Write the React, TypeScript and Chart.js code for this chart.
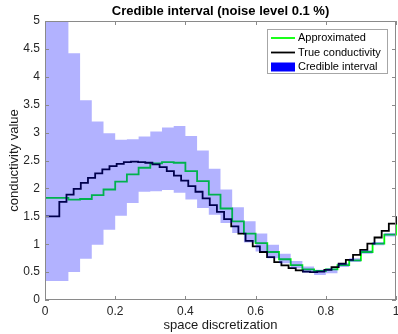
import React, { useEffect, useRef } from "react";
import { Chart, registerables } from "chart.js";

Chart.register(...registerables);

// x grid of the approximation / credible interval (30 cells, 31 edges)
const approxGrid = [0, 0.0333, 0.0667, 0.1, 0.1333, 0.1667, 0.2, 0.2333, 0.2667, 0.3, 0.3333, 0.3667, 0.4, 0.4333, 0.4667, 0.5, 0.5333, 0.5667, 0.6, 0.6333, 0.6667, 0.7, 0.7333, 0.7667, 0.8, 0.8333, 0.8667, 0.9, 0.9333, 0.9667, 1];
// x grid of the true conductivity (49 cells, 50 edges)
const trueGrid = [0, 0.0204, 0.0408, 0.0612, 0.0816, 0.102, 0.1224, 0.1429, 0.1633, 0.1837, 0.2041, 0.2245, 0.2449, 0.2653, 0.2857, 0.3061, 0.3265, 0.3469, 0.3673, 0.3878, 0.4082, 0.4286, 0.449, 0.4694, 0.4898, 0.5102, 0.5306, 0.551, 0.5714, 0.5918, 0.6122, 0.6327, 0.6531, 0.6735, 0.6939, 0.7143, 0.7347, 0.7551, 0.7755, 0.7959, 0.8163, 0.8367, 0.8571, 0.8776, 0.898, 0.9184, 0.9388, 0.9592, 0.9796, 1];

const approximated = [1.83, 1.83, 1.8, 1.81, 1.88, 1.98, 2.12, 2.25, 2.37, 2.45, 2.47, 2.46, 2.31, 2.13, 1.89, 1.64, 1.41, 1.19, 1.02, 0.86, 0.73, 0.625, 0.55, 0.52, 0.55, 0.625, 0.71, 0.86, 1.01, 1.17, 1.37];
const trueConductivity = [1.5, 1.5, 1.76, 1.89, 1.99, 2.1, 2.19, 2.27, 2.34, 2.4, 2.44, 2.47, 2.48, 2.47, 2.46, 2.43, 2.38, 2.31, 2.23, 2.14, 2.04, 1.94, 1.82, 1.7, 1.58, 1.45, 1.32, 1.19, 1.06, 0.96, 0.86, 0.77, 0.68, 0.62, 0.57, 0.53, 0.51, 0.5, 0.51, 0.54, 0.59, 0.65, 0.72, 0.81, 0.9, 1.01, 1.12, 1.24, 1.37, 1.5];
const credibleUpper = [5.6, 5.3, 4.42, 3.58, 3.2, 2.99, 2.87, 2.88, 2.93, 3.02, 3.09, 3.12, 2.94, 2.68, 2.35, 1.98, 1.66, 1.41, 1.19, 0.99, 0.83, 0.7, 0.6, 0.54, 0.57, 0.66, 0.75, 0.89, 1.04, 1.2, 1.2];
const credibleLower = [0.34, 0.34, 0.5, 0.74, 0.99, 1.26, 1.51, 1.74, 1.94, 1.95, 1.97, 1.92, 1.8, 1.65, 1.53, 1.38, 1.2, 1.03, 0.87, 0.75, 0.66, 0.57, 0.49, 0.45, 0.48, 0.59, 0.68, 0.83, 0.98, 1.14, 1.14];

const xTicks = [0, 0.2, 0.4, 0.6, 0.8, 1];
const xTickLabels = ["0", "0.2", "0.4", "0.6", "0.8", "1"];
const yTicks = [0, 0.5, 1, 1.5, 2, 2.5, 3, 3.5, 4, 4.5, 5];
const yTickLabels = ["0", "0.5", "1", "1.5", "2", "2.5", "3", "3.5", "4", "4.5", "5"];

const titleText = "Credible interval (noise level 0.1 %)";
const xTitle = "space discretization";
const yTitle = "conductivity value";
const legendLabels = ["Approximated", "True conductivity", "Credible interval"];

const FONT = "'Liberation Sans', Arial, Helvetica, sans-serif";
const GREEN = "#00ff00";
const BLACK = "#000000";
const BAND = "rgba(0,0,255,0.3)";
const AXIS = "#8a8a8a";

const toPts = (xs: number[], ys: number[]) => xs.map((x, i) => ({ x, y: ys[i] }));

const decorPlugin = {
  id: "decor",
  afterDraw(chart: any) {
    const { ctx, chartArea: a, scales } = chart;
    const sx = scales.x;
    const sy = scales.y;
    ctx.save();
    // frame
    ctx.strokeStyle = AXIS;
    ctx.lineWidth = 1;
    ctx.strokeRect(Math.round(a.left) + 0.5, Math.round(a.top) + 0.5, Math.round(a.right - a.left) - 1, Math.round(a.bottom - a.top) - 1);
    // inward ticks
    const tl = 4;
    ctx.beginPath();
    xTicks.forEach((v) => {
      const px = Math.round(sx.getPixelForValue(v)) + 0.5;
      ctx.moveTo(px, a.bottom);
      ctx.lineTo(px, a.bottom - tl);
      ctx.moveTo(px, a.top);
      ctx.lineTo(px, a.top + tl);
    });
    yTicks.forEach((v) => {
      const py = Math.round(sy.getPixelForValue(v)) + 0.5;
      ctx.moveTo(a.left, py);
      ctx.lineTo(a.left + tl, py);
      ctx.moveTo(a.right, py);
      ctx.lineTo(a.right - tl, py);
    });
    ctx.stroke();

    // title centred over the axes
    ctx.fillStyle = "#000";
    ctx.font = `bold 13px ${FONT}`;
    ctx.textAlign = "center";
    ctx.textBaseline = "middle";
    ctx.fillText(titleText, (a.left + a.right) / 2, 11);

    // legend box
    const lx = 267, ly = 29, lw = 121, lh = 45;
    ctx.fillStyle = "#fff";
    ctx.fillRect(lx, ly, lw, lh);
    ctx.strokeStyle = "#a6a6a6";
    ctx.strokeRect(lx + 0.5, ly + 0.5, lw - 1, lh - 1);
    const rows = [38, 52.5, 66.5];
    ctx.font = `11px ${FONT}`;
    ctx.textAlign = "left";
    ctx.textBaseline = "middle";
    rows.forEach((ry, i) => {
      if (i === 0 || i === 1) {
        ctx.strokeStyle = i === 0 ? GREEN : BLACK;
        ctx.lineWidth = 1.8;
        ctx.beginPath();
        ctx.moveTo(271, ry);
        ctx.lineTo(295, ry);
        ctx.stroke();
      } else {
        ctx.fillStyle = "#0000ff";
        ctx.fillRect(271, ry - 4, 24, 9);
      }
      ctx.fillStyle = "#000";
      ctx.fillText(legendLabels[i], 298, ry);
    });
    ctx.restore();
  },
};

export default function App() {
  const ref = useRef<HTMLCanvasElement>(null);
  useEffect(() => {
    if (!ref.current) return;
    const lineClip = { left: 1, top: 0, right: 2, bottom: 0 };
    const chart = new Chart(ref.current, {
      type: "line",
      data: {
        datasets: [
          {
            label: legendLabels[0],
            data: toPts(approxGrid, approximated),
            borderColor: GREEN,
            borderWidth: 1.8,
            stepped: "before",
            pointRadius: 0,
            fill: false,
            order: 2,
            clip: lineClip,
          },
          {
            label: legendLabels[1],
            data: toPts(trueGrid, trueConductivity),
            borderColor: BLACK,
            borderWidth: 1.8,
            stepped: "before",
            pointRadius: 0,
            fill: false,
            order: 1,
            clip: lineClip,
          },
          {
            label: legendLabels[2],
            data: toPts(approxGrid, credibleUpper),
            borderWidth: 0,
            borderColor: "rgba(0,0,0,0)",
            backgroundColor: BAND,
            stepped: "before",
            pointRadius: 0,
            fill: "+1",
            order: 0,
          },
          {
            label: "lower",
            data: toPts(approxGrid, credibleLower),
            borderWidth: 0,
            borderColor: "rgba(0,0,0,0)",
            stepped: "before",
            pointRadius: 0,
            fill: false,
            order: 0,
          },
        ],
      },
      options: {
        animation: false,
        responsive: false,
        maintainAspectRatio: false,
        devicePixelRatio: 1,
        layout: { padding: { top: 21, right: 2, left: 0, bottom: 0 } },
        plugins: {
          legend: { display: false },
          title: { display: false },
          tooltip: { enabled: false },
        },
        scales: {
          x: {
            type: "linear",
            min: 0,
            max: 1,
            afterBuildTicks: (s: any) => {
              s.ticks = xTicks.map((v) => ({ value: v }));
            },
            afterFit: (s: any) => {
              s.height = 34;
              s.paddingLeft = 0;
              s.paddingRight = 0;
            },
            ticks: {
              autoSkip: false,
              maxRotation: 0,
              padding: 4,
              color: "#262626",
              font: { family: FONT, size: 12 },
              callback: (v: any) => xTickLabels[xTicks.indexOf(Number(v))] ?? "",
            },
            grid: { display: false, drawTicks: false },
            border: { display: false },
            title: {
              display: true,
              text: xTitle,
              color: "#1a1a1a",
              font: { family: FONT, size: 13 },
              padding: { top: 0, bottom: 1 },
            },
          },
          y: {
            type: "linear",
            min: 0,
            max: 5,
            afterBuildTicks: (s: any) => {
              s.ticks = yTicks.map((v) => ({ value: v }));
            },
            afterFit: (s: any) => {
              s.width = 45;
              s.paddingTop = 0;
              s.paddingBottom = 0;
            },
            ticks: {
              autoSkip: false,
              padding: 5,
              color: "#262626",
              font: { family: FONT, size: 12 },
              callback: (v: any) => yTickLabels[yTicks.indexOf(Number(v))] ?? "",
            },
            grid: { display: false, drawTicks: false },
            border: { display: false },
            title: {
              display: true,
              text: yTitle,
              color: "#1a1a1a",
              font: { family: FONT, size: 13 },
              padding: { top: 7, bottom: 0 },
            },
          },
        },
      },
      plugins: [decorPlugin],
    });
    return () => chart.destroy();
  }, []);
  return (
    <div style={{ position: "fixed", left: 0, top: 0, width: 398, height: 334, background: "#fff" }}>
      <canvas ref={ref} width={398} height={334} style={{ display: "block" }} />
    </div>
  );
}
